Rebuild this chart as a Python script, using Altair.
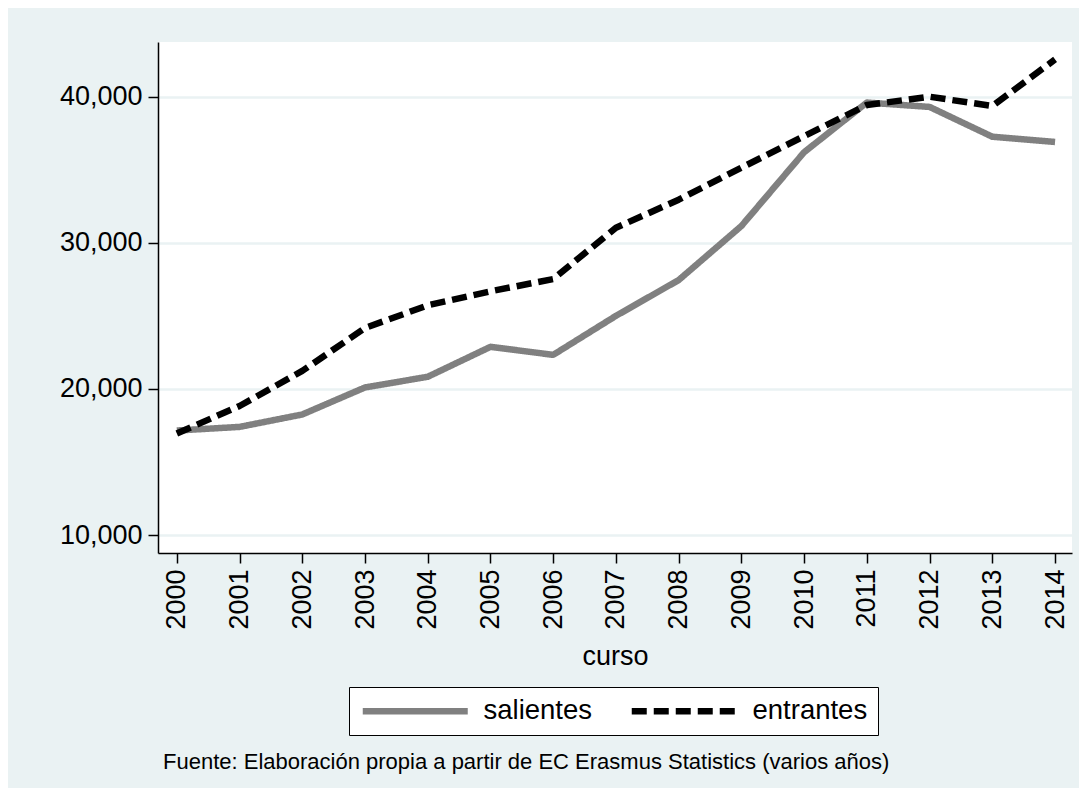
import altair as alt
import pandas as pd

years = list(range(2000, 2015))
salientes = [17150, 17400, 18250, 20100, 20830, 22880, 22330, 25000, 27450, 31150, 36200, 39600, 39300, 37260, 36900]
entrantes = [16950, 18830, 21230, 24170, 25720, 26680, 27520, 31030, 32950, 35140, 37300, 39430, 40000, 39360, 42550]
series_names = ["salientes", "entrantes"]
y_ticks = [10000, 20000, 30000, 40000]
caption = "Fuente: Elaboración propia a partir de EC Erasmus Statistics (varios años)"

rows = []
for name, vals in zip(series_names, [salientes, entrantes]):
    for yr, v in zip(years, vals):
        rows.append({"curso": yr, "valor": v, "serie": name})
df = pd.DataFrame(rows)

FONT = "Liberation Sans"
BG = "#EAF2F3"


def make_legend():
    return alt.Legend(title=None, orient="none", legendX=191, legendY=645,
                      direction="horizontal", fillColor="white",
                      strokeColor="black", padding=10,
                      symbolType="M-1,0H9.5", symbolSize=400,
                      symbolStrokeWidth=6.5, labelFontSize=27.5,
                      labelFont=FONT, labelColor="black",
                      labelOffset=97, columnPadding=25)


chart = alt.Chart(df).mark_line(strokeWidth=6.5, strokeCap="butt", strokeJoin="round", clip=True).encode(
    x=alt.X("curso:Q",
            scale=alt.Scale(domain=[1999.70, 2014.27], nice=False, zero=False),
            axis=alt.Axis(values=years, format="d", labelAngle=270, title="curso",
                          grid=False, titlePadding=14)),
    y=alt.Y("valor:Q",
            scale=alt.Scale(domain=[8768, 43744], nice=False, zero=False),
            axis=alt.Axis(values=y_ticks, format=",d", title=None, grid=True,
                          gridColor=BG, gridWidth=2.5)),
    color=alt.Color("serie:N",
                    scale=alt.Scale(domain=series_names, range=["#808080", "#000000"]),
                    legend=make_legend()),
    strokeDash=alt.StrokeDash("serie:N",
                              scale=alt.Scale(domain=series_names, range=[[1, 0], [15, 7]]),
                              legend=make_legend()),
).properties(
    width=914,
    height=511,
    autosize=alt.AutoSizeParams(type="none"),
    padding={"left": 150, "top": 34, "right": 7, "bottom": 235},
    background=BG,
    title=alt.TitleParams(caption, orient="bottom", anchor="start", frame="group",
                          fontSize=22, font=FONT, fontWeight="normal", color="black",
                          offset=16, dx=5),
).configure_view(
    fill="white", strokeWidth=0
).configure_axis(
    domainColor="black", domainWidth=1.5, tickColor="black", tickSize=10, tickWidth=1.5,
    labelFont=FONT, labelFontSize=27, labelColor="black", labelPadding=6,
    titleFont=FONT, titleFontSize=27, titleFontWeight="normal", titleColor="black"
)

chart.save("out.html", embed_options={"renderer": "svg", "actions": False})
